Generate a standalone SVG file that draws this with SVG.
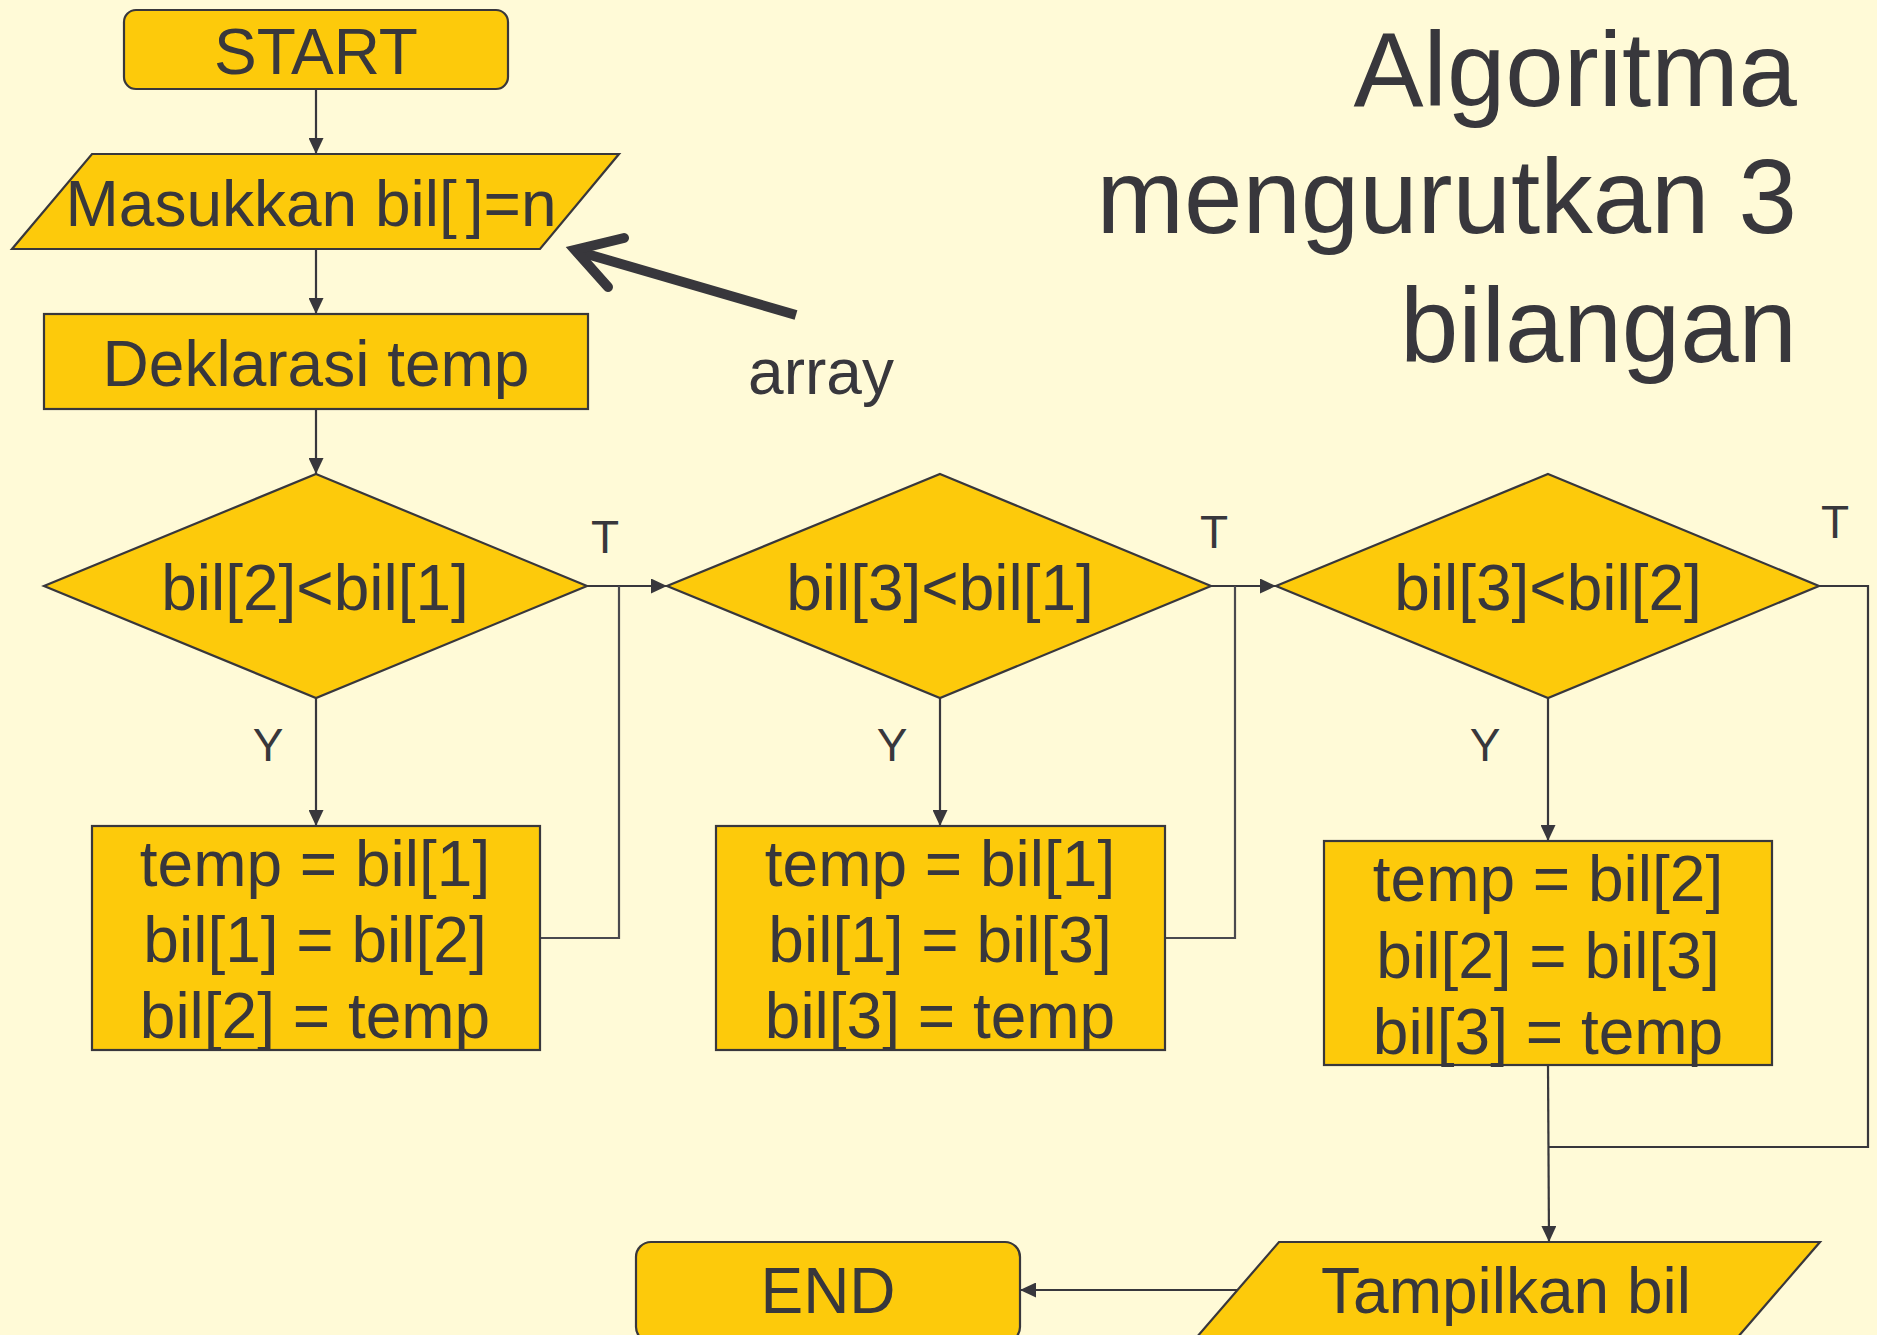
<svg xmlns="http://www.w3.org/2000/svg" width="1877" height="1335" viewBox="0 0 1877 1335">
<defs>
<style>
.bg{fill:#FFFAD7}
.node{fill:#FDCA0B;stroke:#38373C;stroke-width:2.2}
.t{font-family:"Liberation Sans",Arial,sans-serif;fill:#38373C;text-anchor:middle}
.n{font-size:64px}
.lab{font-size:46px}
.title{font-family:"Liberation Sans",Arial,sans-serif;fill:#38373C;font-size:105px;text-anchor:end}
.c{fill:none;stroke:#38373C;stroke-width:2.2}
.c2{fill:none;stroke:#4a494e;stroke-width:2.2}
</style>
<marker id="ah" markerUnits="userSpaceOnUse" markerWidth="16" markerHeight="15" refX="16" refY="7.5" orient="auto">
<path d="M0,0 L16,7.5 L0,15 z" fill="#38373C"/>
</marker>
</defs>
<rect class="bg" x="0" y="0" width="1877" height="1335"/>

<g id="title">
<text class="title" x="1797" y="106">Algoritma</text>
<text class="title" x="1797" y="233">mengurutkan 3</text>
<text class="title" x="1797" y="362">bilangan</text>
</g>

<g id="connectors">
<line class="c" x1="316" y1="89" x2="316" y2="154" marker-end="url(#ah)"/>
<line class="c" x1="316" y1="249" x2="316" y2="314" marker-end="url(#ah)"/>
<line class="c" x1="316" y1="409" x2="316" y2="474" marker-end="url(#ah)"/>
<line class="c" x1="316" y1="698" x2="316" y2="826" marker-end="url(#ah)"/>
<line class="c" x1="587" y1="586" x2="667" y2="586" marker-end="url(#ah)"/>
<polyline class="c2" points="540,938 619,938 619,586"/>
<line class="c" x1="940" y1="698" x2="940" y2="826" marker-end="url(#ah)"/>
<line class="c" x1="1211" y1="586" x2="1276" y2="586" marker-end="url(#ah)"/>
<polyline class="c2" points="1165,938 1235,938 1235,586"/>
<line class="c" x1="1548" y1="698" x2="1548" y2="841" marker-end="url(#ah)"/>
<polyline class="c" points="1819,586 1868,586 1868,1147 1549,1147"/>
<line class="c" x1="1548" y1="1066" x2="1549" y2="1242" marker-end="url(#ah)"/>
<line class="c" x1="1238" y1="1290" x2="1020" y2="1290" marker-end="url(#ah)"/>
<g id="array-pointer">
<line x1="796" y1="315" x2="580" y2="252" stroke="#38373C" stroke-width="10"/>
<polyline points="608,287 575,250 624,238" fill="none" stroke="#38373C" stroke-width="10" stroke-linecap="round" stroke-linejoin="miter"/>
</g>
</g>

<g id="labels">
<text class="t" x="821" y="394" style="font-size:64px">array</text>
<text class="t lab" x="605" y="553">T</text>
<text class="t lab" x="268" y="761">Y</text>
<text class="t lab" x="1214" y="548">T</text>
<text class="t lab" x="892" y="761">Y</text>
<text class="t lab" x="1835" y="538">T</text>
<text class="t lab" x="1485" y="761">Y</text>
</g>

<g id="start">
<rect class="node" x="124" y="10" width="384" height="79" rx="12"/>
<text class="t n" x="316" y="74">START</text>
</g>

<g id="input">
<polygon class="node" points="92,154 619,154 540,249 12,249"/>
<text class="t n" x="311" y="226">Masukkan bil[<tspan dx="9">]=n</tspan></text>
</g>

<g id="declare">
<rect class="node" x="44" y="314" width="544" height="95"/>
<text class="t n" x="316" y="386">Deklarasi temp</text>
</g>

<g id="decision1">
<polygon class="node" points="316,474 587,586 316,698 44,586"/>
<text class="t n" x="315" y="610">bil[2]&lt;bil[1]</text>
</g>

<g id="swap1">
<rect class="node" x="92" y="826" width="448" height="224"/>
<text class="t n" x="315" y="886">temp = bil[1]</text>
<text class="t n" x="315" y="962">bil[1] = bil[2]</text>
<text class="t n" x="315" y="1038">bil[2] = temp</text>
</g>

<g id="decision2">
<polygon class="node" points="940,474 1211,586 940,698 667,586"/>
<text class="t n" x="940" y="610">bil[3]&lt;bil[1]</text>
</g>

<g id="swap2">
<rect class="node" x="716" y="826" width="449" height="224"/>
<text class="t n" x="940" y="886">temp = bil[1]</text>
<text class="t n" x="940" y="962">bil[1] = bil[3]</text>
<text class="t n" x="940" y="1038">bil[3] = temp</text>
</g>

<g id="decision3">
<polygon class="node" points="1548,474 1819,586 1548,698 1276,586"/>
<text class="t n" x="1548" y="610">bil[3]&lt;bil[2]</text>
</g>

<g id="swap3">
<rect class="node" x="1324" y="841" width="448" height="224"/>
<text class="t n" x="1548" y="901">temp = bil[2]</text>
<text class="t n" x="1548" y="978">bil[2] = bil[3]</text>
<text class="t n" x="1548" y="1054">bil[3] = temp</text>
</g>

<g id="output">
<polygon class="node" points="1279,1242 1820,1242 1731,1345 1190,1345"/>
<text class="t n" x="1506" y="1313">Tampilkan bil</text>
</g>

<g id="end">
<rect class="node" x="636" y="1242" width="384" height="100" rx="15"/>
<text class="t n" x="828" y="1313">END</text>
</g>
</svg>
